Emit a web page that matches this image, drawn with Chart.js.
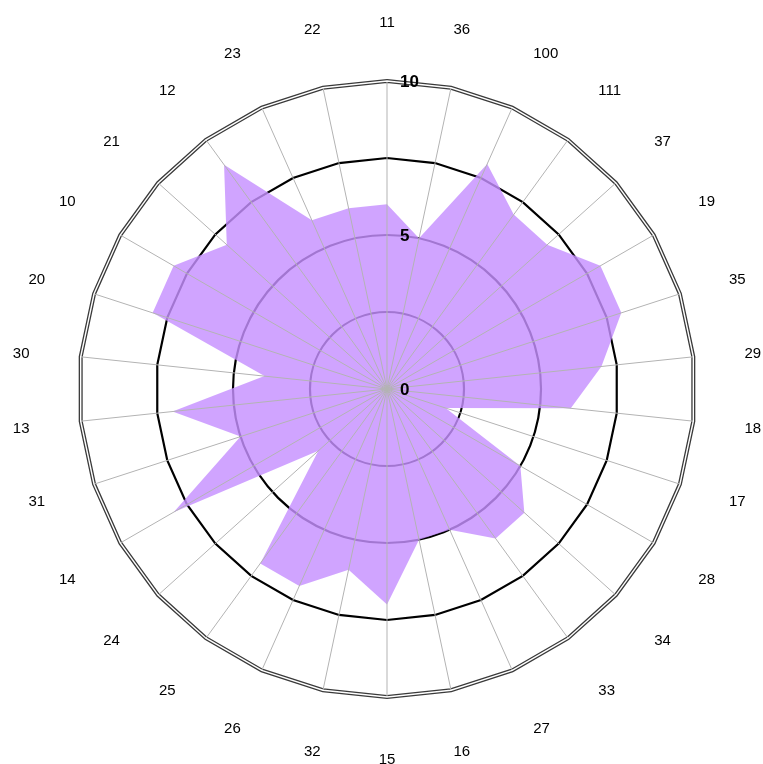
<!DOCTYPE html>
<html>
<head>
<meta charset="utf-8">
<script src="https://cdn.jsdelivr.net/npm/chart.js@4"></script>
<style>
  html, body { margin: 0; padding: 0; background: #fff; }
  #wrap { width: 763px; height: 764px; position: relative; }
</style>
</head>
<body>
<div id="wrap"><canvas id="radarChart"></canvas></div>
<script>
const categories = ['11', '36', '100', '111', '37', '19', '35', '29', '18', '17',
    '28', '34', '33', '27', '16', '15', '32', '26', '25', '24',
    '14', '31', '13', '30', '20', '10', '21', '12', '23', '22'];
const values = [6, 5, 8, 7, 7, 8, 8, 7, 6, 2,
    5, 6, 6, 5, 5, 7, 6, 7, 7, 3,
    8, 5, 7, 4, 8, 8, 7, 9, 6, 6];
const tickLabels = [0, 5, 10];
const scaleMax = 10;
const scaleStep = 2.5;

const FONT = "'Liberation Sans', Arial, sans-serif";

// angle lines, outer double ring and all the text go on top of the fill
const overlay = {
    id: 'overlay',
    afterDatasetsDraw(chart) {
        const scale = chart.scales.r;
        const ctx = chart.ctx;
        const n = chart.data.labels.length;
        const outer = scale.getDistanceFromCenterForValue(scaleMax);

        ctx.save();
        ctx.strokeStyle = '#b3b3b3';
        ctx.lineWidth = 1;
        for (let i = 0; i < n; i++) {
            const p = scale.getPointPosition(i, outer);
            ctx.beginPath();
            ctx.moveTo(scale.xCenter, scale.yCenter);
            ctx.lineTo(p.x, p.y);
            ctx.stroke();
        }

        // white line inside the thick outer ring -> double line look
        ctx.strokeStyle = '#fff';
        ctx.lineWidth = 1.4;
        ctx.beginPath();
        for (let i = 0; i < n; i++) {
            const p = scale.getPointPosition(i, outer);
            if (i === 0) ctx.moveTo(p.x, p.y); else ctx.lineTo(p.x, p.y);
        }
        ctx.closePath();
        ctx.stroke();

        // category labels: box anchored on a ring, side depends on the quadrant
        ctx.fillStyle = '#000';
        ctx.font = '15px ' + FONT;
        ctx.textBaseline = 'middle';
        const half = 9;
        for (let i = 0; i < n; i++) {
            const p = scale.getPointPosition(i, outer + 51.5);
            const a = i * 2 * Math.PI / n;
            const s = Math.sin(a), c = Math.cos(a);
            ctx.textAlign = Math.abs(s) < 0.3 ? 'center' : (s > 0 ? 'left' : 'right');
            let y = p.y + 2;
            if (Math.abs(c) >= 0.4) y += c > 0 ? -half : half;
            ctx.fillText(chart.data.labels[i], p.x, y);
        }

        // value labels right of the vertical axis
        ctx.font = 'bold 17px ' + FONT;
        ctx.textAlign = 'left';
        tickLabels.forEach(v => {
            const y = scale.yCenter - scale.getDistanceFromCenterForValue(v);
            ctx.fillText(String(v), scale.xCenter + 13, y + 1);
        });
        ctx.restore();
    }
};

const ctx = document.getElementById('radarChart');

new Chart(ctx, {
    type: 'radar',
    data: {
        labels: categories,
        datasets: [{
            data: values,
            fill: true,
            backgroundColor: 'rgba(198, 144, 255, 0.82)',
            borderWidth: 0,
            pointRadius: 0,
            pointHoverRadius: 0
        }]
    },
    options: {
        responsive: true,
        maintainAspectRatio: false,
        animation: false,
        layout: {
            padding: { left: 79, right: 68, top: 81, bottom: 67 }
        },
        plugins: {
            legend: { display: false },
            tooltip: { enabled: false }
        },
        scales: {
            r: {
                min: 0,
                max: scaleMax,
                beginAtZero: true,
                ticks: {
                    display: false,
                    stepSize: scaleStep
                },
                pointLabels: { display: false },
                angleLines: { display: false },
                grid: {
                    // inner two rings are round, the outer two follow the spokes
                    circular: ctx => !!ctx.tick && ctx.tick.value <= 5,
                    color: ctx => ctx.tick && ctx.tick.value === scaleMax ? '#3a3a3a' : '#000',
                    lineWidth: ctx => ctx.tick && ctx.tick.value === scaleMax ? 4 : 2.2
                }
            }
        }
    },
    plugins: [overlay]
});
</script>
</body>
</html>
